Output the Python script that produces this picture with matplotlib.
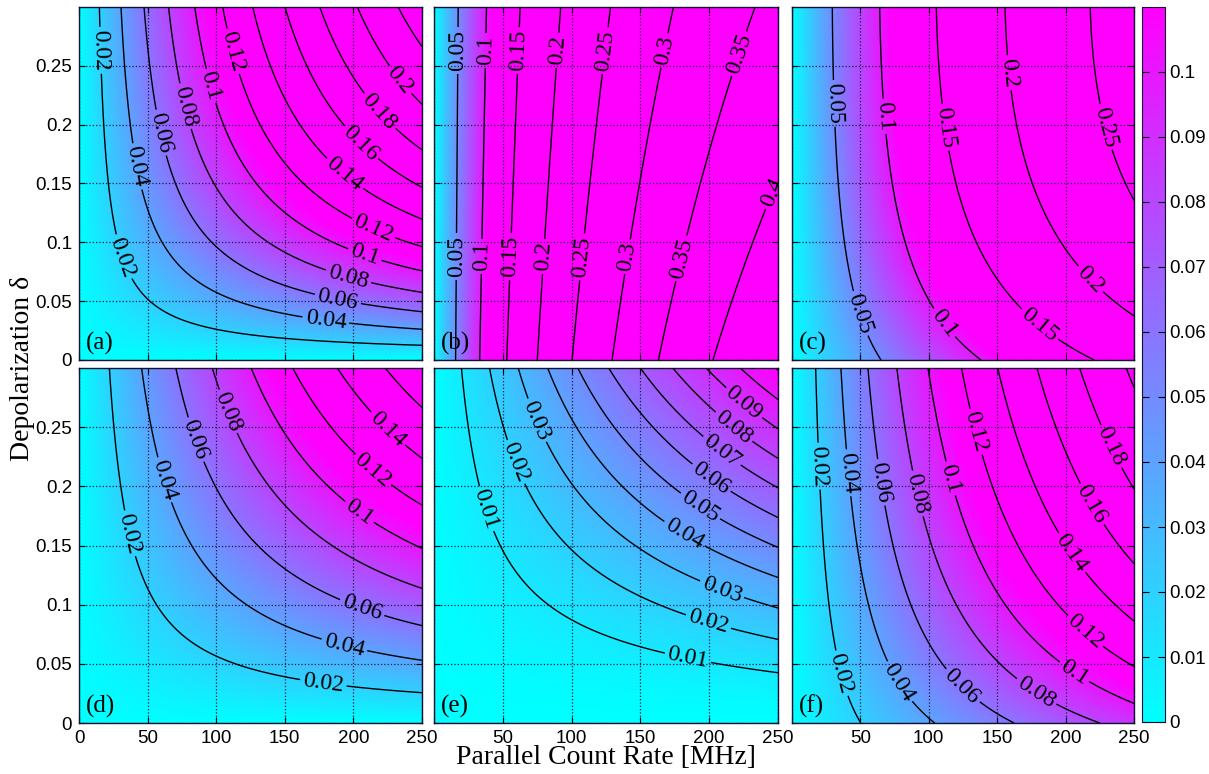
import numpy as np
import matplotlib
matplotlib.use('Agg')
import matplotlib.pyplot as plt

plt.rcParams['font.family'] = ['Liberation Serif', 'DejaVu Serif']

# panel tags
panel_tags = ['(a)', '(b)', '(c)', '(d)', '(e)', '(f)']

# field read off the picture as
#   f = x*(n0 + n1*y + n2*y^2) / (p0 + p1*y + p2*y^2 + x*(q0 + q1*y + q2*y^2))
num_n0 = [0, 1, 1, 0, 0, 1]
num_n1 = [1, 0, 10.0, 1, 0, 12.6]
num_n2 = [0, 0, 0, 0, 1, 0]
den_p0 = [100.0, 298.0, 1230.0, 232.5, 37.8, 2430.0]
den_p1 = [333.3, 93.3, 1400.0, 300.0, 465.0, 5252.0]
den_p2 = [183.3, 0, 5891.0, 0, 0, 0]
den_q0 = [0.2, 1.03, 1.1, 0.31, -0.075, 1.7]
den_q1 = [0.6667, 1.433, 16.33, 0.4, 0.595, 19.35]
den_q2 = [0.3667, 0, 0, 0, 0, 0]

# contour levels of each panel
level_step = [0.02, 0.05, 0.05, 0.02, 0.01, 0.02]
level_top = [0.24, 0.45, 0.25, 0.16, 0.11, 0.20]

# axes ticks
x_ticks = [0, 50, 100, 150, 200, 250]
y_ticks = [0, 0.05, 0.1, 0.15, 0.2, 0.25]
cbar_ticks = [0, 0.01, 0.02, 0.03, 0.04, 0.05, 0.06, 0.07, 0.08, 0.09, 0.1]
c_max = 0.11

# where the contour labels sit (layout only)
label_spots = [
    [(10, 0.263), (33, 0.088), (40, 0.164), (59, 0.193), (75, 0.215), (93, 0.232),
     (108, 0.261), (224, 0.229), (212, 0.204), (200, 0.178), (190, 0.153),
     (212, 0.105), (207, 0.085), (195, 0.065), (188, 0.048), (180, 0.035)],
    [(19, 0.263), (37, 0.263), (60, 0.263), (92, 0.263), (124, 0.263), (167, 0.263),
     (215, 0.263), (18, 0.088), (36, 0.088), (55, 0.088), (79, 0.088), (106, 0.088),
     (139, 0.088), (174, 0.088), (236, 0.147)],
    [(29, 0.218), (67, 0.207), (114, 0.198), (158, 0.244), (229, 0.198),
     (51, 0.040), (114, 0.034), (186, 0.037), (223, 0.074)],
    [(36, 0.160), (61, 0.205), (84, 0.239), (110, 0.264), (222, 0.245), (210, 0.208),
     (200, 0.171), (205, 0.093), (193, 0.064), (178, 0.033)],
    [(35, 0.180), (56, 0.219), (69, 0.253), (222, 0.266), (213, 0.243), (204, 0.222),
     (199, 0.203), (190, 0.177), (180, 0.156), (209, 0.112), (199, 0.084), (184, 0.052)],
    [(17, 0.217), (37, 0.211), (63, 0.203), (92, 0.194), (117, 0.207), (134, 0.246),
     (230, 0.232), (218, 0.184), (206, 0.145), (217, 0.081), (208, 0.046),
     (180, 0.029), (126, 0.033), (80, 0.036), (36, 0.042)],
]

fig = plt.figure(figsize=(12.09, 7.74), dpi=100)

lefts = [79 / 1209, 434 / 1209, 792 / 1209]
widths = [343 / 1209, 344 / 1209, 342 / 1209]
bottoms = [1 - 360 / 774, 1 - 723 / 774]
heights = [353 / 774, 355 / 774]

xs = np.linspace(0, 250, 401)
ys = np.linspace(0, 0.3, 401)
X, Y = np.meshgrid(xs, ys)

for i in range(6):
    row, col = i // 3, i % 3
    ax = fig.add_axes([lefts[col], bottoms[row], widths[col], heights[row]])
    top = X * (num_n0[i] + num_n1[i] * Y + num_n2[i] * Y ** 2)
    bot = (den_p0[i] + den_p1[i] * Y + den_p2[i] * Y ** 2
           + X * (den_q0[i] + den_q1[i] * Y + den_q2[i] * Y ** 2))
    F = top / bot
    im = ax.imshow(F, extent=[0, 250, 0, 0.3], origin='lower', aspect='auto',
                   cmap='cool', vmin=0, vmax=c_max, interpolation='bilinear')
    levels = np.arange(level_step[i], level_top[i] + level_step[i] / 2, level_step[i])
    cs = ax.contour(X, Y, F, levels=levels, colors='k', linewidths=1.0)
    ax.set_xlim(0, 250)
    ax.set_ylim(0, 0.3)
    txts = ax.clabel(cs, fmt='%g', fontsize=17, inline=True, inline_spacing=3,
                     manual=label_spots[i])
    for t in txts:
        t.set_family(['Liberation Serif'])

    ax.set_xticks(x_ticks)
    ax.set_yticks(y_ticks)
    ax.grid(True, linestyle=':', color='#1a1a40', linewidth=0.9)
    ax.tick_params(direction='in', length=4, top=True, right=True,
                   labelsize=13.5, labelfontfamily='Liberation Sans', pad=5)
    if row == 0:
        ax.set_xticklabels([])
    elif col == 0:
        ax.set_xticklabels(['%g' % v for v in x_ticks])
    else:
        # the 0 sits under the 250 of the panel to the left
        ax.set_xticklabels([''] + ['%g' % v for v in x_ticks[1:]])
    if col == 0:
        ax.set_yticklabels(['%g' % v for v in y_ticks])
    else:
        ax.set_yticklabels([])
    for s in ax.spines.values():
        s.set_color('#101030')
        s.set_linewidth(1.0)
    ax.text(0.02, 0.015, panel_tags[i], transform=ax.transAxes, fontsize=18,
            ha='left', va='bottom')

cax = fig.add_axes([1142 / 1209, 1 - 722 / 774, 23 / 1209, 715 / 774])
cb = fig.colorbar(im, cax=cax, ticks=cbar_ticks)
cb.ax.set_yticklabels(['%g' % v for v in cbar_ticks])
cb.ax.tick_params(direction='in', length=5, left=True, right=True,
                  labelsize=13.5, labelfontfamily='Liberation Sans', pad=3)
cb.outline.set_edgecolor('#101030')

fig.text(0.019, 1 - 368 / 774, 'Depolarization δ', rotation=90, fontsize=20,
         ha='center', va='center')
fig.text(606 / 1209, 1 - 757 / 774, 'Parallel Count Rate [MHz]', fontsize=20,
         ha='center', va='center')

fig.savefig('out.png', dpi=100)
